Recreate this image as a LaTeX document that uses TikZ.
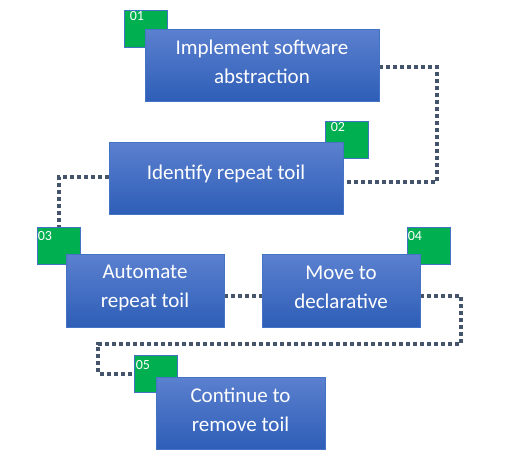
\documentclass[tikz,border=0pt]{standalone}
\usepackage{fontspec}
\setmainfont{Carlito}
\usetikzlibrary{backgrounds}
\definecolor{boxtop}{HTML}{5B80CF}
\definecolor{boxbot}{HTML}{2E5EB7}
\definecolor{boxline}{HTML}{4472C4}
\definecolor{greenfill}{HTML}{00B050}
\definecolor{dotcol}{HTML}{44546A}
\tikzset{
  stepbox/.style={draw=boxline, line width=0.8pt, top color=boxtop, bottom color=boxbot,
    minimum height=72pt, inner sep=0pt},
  steptext/.style={align=center, text=white, inner sep=0pt, font=\fontsize{21}{29}\selectfont},
  gsq/.style={draw=boxline, line width=0.8pt, fill=greenfill, minimum width=43pt, minimum height=37pt, inner sep=0pt},
  num/.style={anchor=north west, text=white, inner sep=0pt, font=\fontsize{14}{16}\selectfont},
  conn/.style={draw=dotcol, line width=4pt, dash pattern=on 4pt off 3pt}
}
\begin{document}
\begin{tikzpicture}[x=1pt,y=-1pt]
\useasboundingbox (0,0) rectangle (505,463);
% green squares
\node[gsq] (g1) at (145.5,28.5) {};
\node[gsq] (g2) at (346.5,139.5) {};
\node[gsq] (g3) at (58.5,245.5) {};
\node[gsq] (g4) at (428.5,245.5) {};
\node[gsq] (g5) at (155.5,373.5) {};
\node[num] (n1) at ([xshift=6pt,yshift=-2pt]g1.north west) {01};
\node[num] (n2) at ([xshift=6pt,yshift=-2pt]g2.north west) {02};
\node[num] (n3) at ([xshift=1pt,yshift=-5pt]g3.north west) {03};
\node[num] (n4) at ([xshift=1pt,yshift=-5pt]g4.north west) {04};
\node[num] (n5) at ([xshift=2pt,yshift=-6pt]g5.north west) {05};
% main boxes
\node[stepbox, minimum width=234pt] (b1) at (262,65) {};
\node[stepbox, minimum width=234pt] (b2) at (226,178) {};
\node[stepbox, minimum width=158pt, minimum height=73pt] (b3) at (145,290.5) {};
\node[stepbox, minimum width=158pt, minimum height=73pt] (b4) at (341,290.5) {};
\node[stepbox, minimum width=169pt] (b5) at (240.5,413) {};
\node[steptext] (t1) at ([yshift=3pt]b1.center) {Implement software\\abstraction};
\node[steptext] (t2) at ([yshift=4pt]b2.center) {Identify repeat toil};
\node[steptext] (t3) at ([yshift=3pt]b3.center) {Automate\\repeat toil};
\node[steptext] (t4) at ([yshift=3pt]b4.center) {Move to\\declarative};
\node[steptext] (t5) at ([yshift=3pt]b5.center) {Continue to\\remove toil};
% connectors
\begin{scope}[on background layer]
\coordinate (c1) at (437,67);
\draw[conn] ([yshift=-2pt]b1.east) -- (c1) |- ([yshift=-4pt]b2.east);
\draw[conn] ([yshift=1pt]b2.west) -| (g3.north);
\draw[conn] ([yshift=-5.5pt]b3.east) -- ([yshift=-5.5pt]b4.west);
\coordinate (c4a) at (461,296);
\coordinate (c4b) at (461,344);
\coordinate (c4c) at (98,344);
\draw[conn] ([yshift=-5.5pt]b4.east) -- (c4a) -- (c4b) -- (c4c) |- (g5.west);
\end{scope}
\end{tikzpicture}
\end{document}
